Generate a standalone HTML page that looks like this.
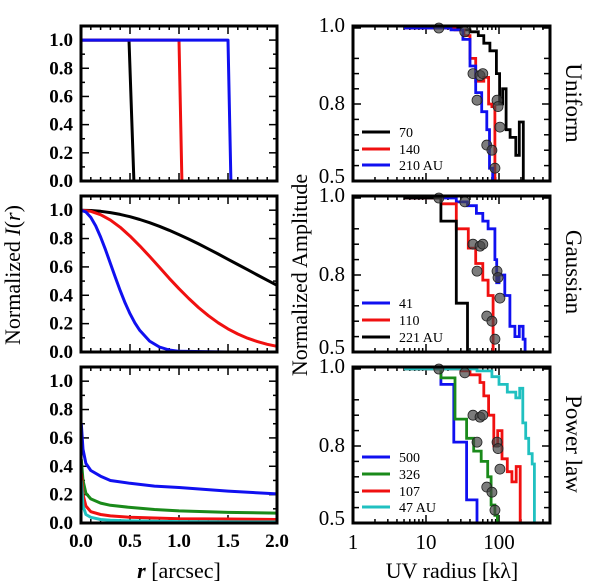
<!DOCTYPE html>
<html><head><meta charset="utf-8"><style>
html,body{margin:0;padding:0;background:#fff;}
svg{display:block;font-family:"Liberation Serif",serif;font-weight:bold;}
</style></head><body>
<svg id="c" width="600" height="582" viewBox="0 0 600 582" xmlns="http://www.w3.org/2000/svg">
<text x="20" y="275" transform="rotate(-90 20 275)" text-anchor="middle" font-size="22" font-weight="normal">Normalized <tspan font-style="italic">I</tspan>(<tspan font-style="italic">r</tspan>)</text>
<text x="307" y="275" transform="rotate(-90 307 275)" text-anchor="middle" font-size="22" font-weight="normal">Normalized Amplitude</text>
<text x="179" y="578" text-anchor="middle" font-size="22" font-weight="normal"><tspan font-style="italic" font-weight="bold">r</tspan>  [arcsec]</text>
<text x="452" y="578" text-anchor="middle" font-size="22" font-weight="normal">UV radius [kλ]</text>
<text x="566" y="103" transform="rotate(90 566 103)" text-anchor="middle" font-size="23" font-weight="normal">Uniform</text>
<text x="566" y="272" transform="rotate(90 566 272)" text-anchor="middle" font-size="23" font-weight="normal">Gaussian</text>
<text x="566" y="444" transform="rotate(90 566 444)" text-anchor="middle" font-size="23" font-weight="normal">Power law</text>
</svg>
<script>
// ---------- data ----------
const uniR=[0,0.49,0.54];
const uniBlack=[1,1,0];
const uniRedR=[0,1.0,1.03];
const uniRed=[1,1,0];
const uniBlueR=[0,1.5,1.53];
const uniBlue=[1,1,0];
const gR=[0,0.1,0.2,0.3,0.4,0.5,0.6,0.7,0.8,0.9,1.0,1.1,1.2,1.3,1.4,1.5,1.6,1.7,1.8,1.9,2.0];
const gBlack=[1,.998,.992,.983,.970,.954,.934,.912,.886,.858,.828,.796,.762,.727,.691,.654,.617,.580,.543,.506,.470];
const gRed=[1,.992,.968,.930,.879,.817,.748,.674,.597,.520,.446,.377,.313,.256,.206,.163,.127,.097,.073,.054,.040];
const gBlueR=[0,.05,.1,.15,.2,.25,.3,.35,.4,.45,.5,.55,.6,.7,.8,.9,1.0,1.5,2.0];
const gBlue=[1,.987,.949,.889,.811,.721,.624,.527,.433,.346,.270,.205,.152,.077,.035,.014,.005,0,0];
const pR=[0.003,0.02,0.05,0.1,0.2,0.3,0.5,0.75,1.0,1.5,2.0];
const pBlue=[0.7,0.52,0.42,0.37,0.33,0.30,0.28,0.26,0.25,0.225,0.205];
const pGreen=[0.45,0.3,0.21,0.17,0.14,0.125,0.11,0.095,0.085,0.075,0.07];
const pRed=[0.35,0.2,0.12,0.08,0.06,0.05,0.04,0.035,0.03,0.028,0.025];
const pCyan=[0.3,0.12,0.06,0.04,0.025,0.02,0.015,0.012,0.01,0.008,0.007];
// step series: edges (kλ) and amplitudes per bin
const u70E=[5,30,40,52,62,75,92,102,112,125,142,170,190,215];
const u70V=[1,0.995,0.99,0.98,0.96,0.94,0.88,0.8,0.84,0.7,0.67,0.6,0.73];
const u140E=[5,25,33,40,48,62,72,80,88];
const u140V=[1,0.995,0.98,0.92,0.86,0.87,0.8,0.79];
const u210E=[5,22,32,40,48,58,68,74,82,86];
const u210V=[1,0.995,0.97,0.9,0.83,0.77,0.7,0.55,0.5];
const g41E=[5,26,37,49,60,71,88,93,100,120,141,165,190,214,228];
const g41V=[1,0.99,0.98,0.96,0.94,0.92,0.84,0.77,0.8,0.72,0.6,0.56,0.6,0.55];
const g110E=[5,16,26,38,48,60,71,83];
const g110V=[1,0.985,0.92,0.87,0.83,0.78,0.72];
const g221E=[5,16,26,37];
const g221V=[1,0.94,0.69];
const p500E=[5,16,24,36,50];
const p500V=[1,0.96,0.81,0.59];
const p326E=[5,16,25,36,45,57,70,78,88,95];
const p326V=[1,0.977,0.87,0.82,0.78,0.74,0.68,0.57,0.53];
const p107E=[5,30,40,55,62,72,85,96,110,130,150,172,195,205];
const p107V=[1,0.995,0.985,0.965,0.93,0.88,0.8,0.84,0.75,0.7,0.66,0.72,0.5];
const p47E=[5,50,80,100,130,170,192,212,232,255,285,305];
const p47V=[1,0.995,0.98,0.96,0.94,0.925,0.95,0.86,0.82,0.77,0.73];
const dotUV=[15,34,44,55,60,50,94,97,103,68,80,88];
const dotAmp=[1.0,0.99,0.88,0.875,0.88,0.81,0.81,0.79,0.71,0.64,0.62,0.55];
// ---------- layout ----------
const svg=document.getElementById('c');
const NS='http://www.w3.org/2000/svg';
const LX0=81,LX1=277,RX0=353,RX1=550;
const rows=[{top:26,bot:181},{top:196,bot:352},{top:367,bot:523}];
function el(t,a,p){const e=document.createElementNS(NS,t);for(const k in a)e.setAttribute(k,a[k]);(p||svg).appendChild(e);return e;}
const lx=r=>LX0+(LX1-LX0)*r/2;
const ly=(row,v)=>row.bot-(v/1.1)*(row.bot-row.top);
const rx=u=>RX0+73*Math.log10(u);
function ry(row,v){const y08=row.bot-77;const y10=row.top+2;return v>=0.8?y08-(v-0.8)/0.2*(y08-y10):y08+(0.8-v)/0.3*77;}
const COL={k:'#000',r:'#f01010',b:'#1010f0',g:'#1a8a1a',c:'#20c0c0'};
function leftPanel(row,name,lastRow){
  const g=el('g',{});
  
  
  for(let i=0;i<=20;i++){const x=lx(i/10);const L=i%5==0?8:4;
    el('line',{x1:x,x2:x,y1:row.bot,y2:row.bot-L,stroke:'#000','stroke-width':1.5},g);
    el('line',{x1:x,x2:x,y1:row.top,y2:row.top+L,stroke:'#000','stroke-width':1.5},g);}
  for(let i=0;i<=11;i++){const y=ly(row,i/10);const L=i%2==0?8:4;
    el('line',{x1:LX0,x2:LX0+L,y1:y,y2:y,stroke:'#000','stroke-width':1.5},g);
    el('line',{x1:LX1,x2:LX1-L,y1:y,y2:y,stroke:'#000','stroke-width':1.5},g);
    if(i%2==0){const t=el('text',{x:LX0-8,y:y+6,'text-anchor':'end','font-size':19},g);t.textContent=(i/10).toFixed(1);
      
      }}
  if(lastRow){for(let i=0;i<=4;i++){const t=el('text',{x:lx(i*0.5),y:547,'text-anchor':'middle','font-size':19},g);t.textContent=(i*0.5).toFixed(1);
    
    }}
  return g;
}
function rightPanel(row,name,lastRow){
  const g=el('g',{});
  
  
  for(let d=0;d<3;d++)for(let m=1;m<10;m++){const u=Math.pow(10,d)*m;const x=rx(u);if(x>RX1)continue;const L=m==1?8:4;
    el('line',{x1:x,x2:x,y1:row.bot,y2:row.bot-L,stroke:'#000','stroke-width':1.5},g);
    el('line',{x1:x,x2:x,y1:row.top,y2:row.top+L,stroke:'#000','stroke-width':1.5},g);}
  [0.5,0.56,0.62,0.68,0.74,0.8,0.84,0.88,0.92,1.0].forEach(v=>{const y=ry(row,v);const L=(v==0.5||v==0.8||v==1.0)?8:6;
    el('line',{x1:RX0,x2:RX0+L,y1:y,y2:y,stroke:'#000','stroke-width':1.5},g);
    el('line',{x1:RX1,x2:RX1-L,y1:y,y2:y,stroke:'#000','stroke-width':1.5},g);});
  [0.5,0.8,1.0].forEach(v=>{const t=el('text',{x:RX0-8,y:ry(row,v)+(v==1.0?4:v==0.5?2:6),'text-anchor':'end','font-size':21,'font-weight':'normal'},g);t.textContent=v.toFixed(1);
    
    });
  if(lastRow){[1,10,100].forEach(u=>{const t=el('text',{x:rx(u),y:549,'text-anchor':'middle','font-size':21,'font-weight':'normal'},g);t.textContent=u;
    
    });}
  return g;
}
function polyL(row,R,V,c,name){let d='';R.forEach((r,i)=>{d+=(i?'L':'M')+lx(r).toFixed(1)+' '+ly(row,V[i]).toFixed(1);});
  const p=el('path',{d:d,fill:'none',stroke:c,'stroke-width':3,'stroke-linejoin':'round'});
  
  }
function stepR(row,E,V,c,name){let d='M'+rx(E[0]).toFixed(1)+' '+ry(row,V[0]).toFixed(1);
  for(let i=0;i<V.length;i++){d+='H'+rx(E[i+1]).toFixed(1);if(i+1<V.length)d+='V'+ry(row,V[i+1]).toFixed(1);}
  d+='V'+row.bot;
  const p=el('path',{d:d,fill:'none',stroke:c,'stroke-width':2.8});
  
  }
function dots(row){dotUV.forEach((u,i)=>{const c=el('circle',{cx:rx(u),cy:ry(row,dotAmp[i]),r:5,fill:'#444','fill-opacity':0.7,stroke:'#222','stroke-width':0.8});
  
  });}
function frameL(row){const f=el('rect',{x:LX0,y:row.top,width:LX1-LX0,height:row.bot-row.top,fill:'none',stroke:'#000','stroke-width':3});}
function frameR(row){const f=el('rect',{x:RX0,y:row.top,width:RX1-RX0,height:row.bot-row.top,fill:'none',stroke:'#000','stroke-width':3});}
function legend(ys,labels,cols){ys.forEach((y,i)=>{
  const l=el('line',{x1:362,x2:390,y1:y,y2:y,stroke:cols[i],'stroke-width':3});
  
  
  const t=el('text',{x:399,y:y+5,'font-size':14,'font-weight':'normal'});t.textContent=labels[i];
  
  });}
// left panels
leftPanel(rows[0],'uniform-profile-panel',false);
polyL(rows[0],uniR,uniBlack,COL.k,'uniform-70-profile');
polyL(rows[0],uniRedR,uniRed,COL.r,'uniform-140-profile');
polyL(rows[0],uniBlueR,uniBlue,COL.b,'uniform-210-profile');
frameL(rows[0]);
leftPanel(rows[1],'gaussian-profile-panel',false);
polyL(rows[1],gR,gBlack,COL.k,'gaussian-221-profile');
polyL(rows[1],gR,gRed,COL.r,'gaussian-110-profile');
polyL(rows[1],gBlueR,gBlue,COL.b,'gaussian-41-profile');
frameL(rows[1]);
leftPanel(rows[2],'powerlaw-profile-panel',true);
polyL(rows[2],pR,pBlue,COL.b,'powerlaw-500-profile');
polyL(rows[2],pR,pGreen,COL.g,'powerlaw-326-profile');
polyL(rows[2],pR,pRed,COL.r,'powerlaw-107-profile');
polyL(rows[2],pR,pCyan,COL.c,'powerlaw-47-profile');
frameL(rows[2]);
// right panels
rightPanel(rows[0],'uniform-visibility-panel',false);
stepR(rows[0],u70E,u70V,COL.k,'uniform-70-visibility');
stepR(rows[0],u140E,u140V,COL.r,'uniform-140-visibility');
stepR(rows[0],u210E,u210V,COL.b,'uniform-210-visibility');
dots(rows[0]);frameR(rows[0]);
legend([132,149,165],['70','140','210 AU'],[COL.k,COL.r,COL.b]);
rightPanel(rows[1],'gaussian-visibility-panel',false);
stepR(rows[1],g41E,g41V,COL.b,'gaussian-41-visibility');
stepR(rows[1],g110E,g110V,COL.r,'gaussian-110-visibility');
stepR(rows[1],g221E,g221V,COL.k,'gaussian-221-visibility');
dots(rows[1]);frameR(rows[1]);
legend([303,320,337],['41','110','221 AU'],[COL.b,COL.r,COL.k]);
rightPanel(rows[2],'powerlaw-visibility-panel',true);
stepR(rows[2],p500E,p500V,COL.b,'powerlaw-500-visibility');
stepR(rows[2],p326E,p326V,COL.g,'powerlaw-326-visibility');
stepR(rows[2],p107E,p107V,COL.r,'powerlaw-107-visibility');
stepR(rows[2],p47E,p47V,COL.c,'powerlaw-47-visibility');
dots(rows[2]);frameR(rows[2]);
legend([457,474,491,507],['500','326','107','47 AU'],[COL.b,COL.g,COL.r,COL.c]);
</script>
</body></html>
